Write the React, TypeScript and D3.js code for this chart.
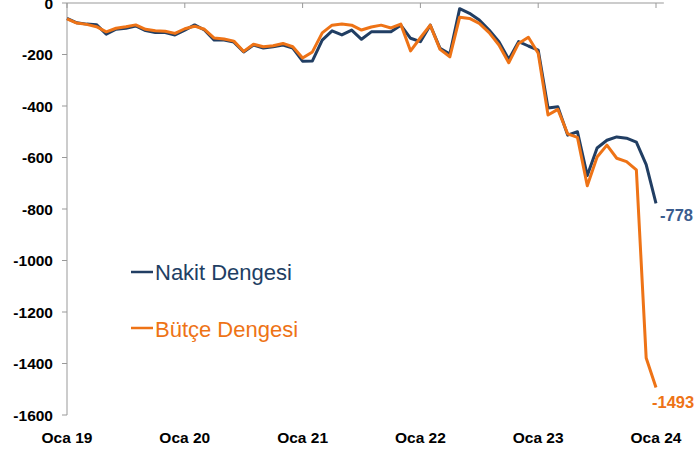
import React from "react";
import * as d3 from "d3";

const xLabels = ["Oca 19", "Oca 20", "Oca 21", "Oca 22", "Oca 23", "Oca 24"];
const yTicks = [0, -200, -400, -600, -800, -1000, -1200, -1400, -1600];

const nakit = [
  -60, -77, -82, -84, -121, -102, -98, -89, -107, -115, -115, -124,
  -105, -85, -105, -144, -144, -152, -190, -163, -175, -170, -163, -175,
  -226, -225, -144, -108, -124, -105, -141, -112, -112, -112, -86, -137,
  -150, -86, -176, -198, -22, -40, -66, -105, -150, -219, -150, -167,
  -183, -408, -403, -513, -500, -670, -563, -533, -520, -525, -540, -628,
  -778,
];

const butce = [
  -62, -78, -83, -92, -112, -98, -92, -85, -102, -108, -110, -118,
  -100, -90, -102, -136, -140, -148, -188, -160, -170, -166, -157, -170,
  -214, -190, -116, -86, -82, -86, -105, -93, -86, -97, -82, -186,
  -135, -86, -180, -209, -55, -60, -79, -115, -163, -232, -157, -133,
  -195, -435, -413, -508, -522, -710, -598, -552, -603, -616, -648, -1379,
  -1493,
];

const BLUE = "#213E63";
const ORANGE = "#EE7316";
const BLUE_LABEL = "#3A5C8E";
const AXIS = "#999999";
const FONT = "'Liberation Sans', Arial, sans-serif";

export default function App() {
  const W = 697;
  const H = 450;
  const x = d3.scaleLinear().domain([0, 60]).range([67, 656]);
  const y = d3.scaleLinear().domain([-1600, 0]).range([415, 3]);
  const line = d3
    .line<number>()
    .x((_, i) => x(i))
    .y((d) => y(d));

  const lastI = nakit.length - 1;

  return (
    <svg
      width={W}
      height={H}
      style={{ position: "absolute", left: 0, top: 0, background: "#fff" }}
    >
      {/* y axis */}
      <line x1={67} x2={67} y1={y(0)} y2={y(-1600)} stroke={AXIS} strokeWidth={1} />
      {yTicks.map((t) => (
        <g key={t}>
          <line x1={62} x2={67} y1={y(t)} y2={y(t)} stroke={AXIS} strokeWidth={1} />
          <text
            x={53}
            y={y(t)}
            dy="0.36em"
            textAnchor="end"
            fontFamily={FONT}
            fontWeight="bold"
            fontSize={15.5}
            fill="#000"
          >
            {t}
          </text>
        </g>
      ))}
      {/* x axis at top (value 0) */}
      <line x1={67} x2={x(60.8)} y1={y(0)} y2={y(0)} stroke={AXIS} strokeWidth={1} />
      {xLabels.map((l, k) => (
        <g key={l}>
          <line x1={x(k * 12)} x2={x(k * 12)} y1={y(0)} y2={y(0) + 5} stroke={AXIS} strokeWidth={1} />
          <text
            x={x(k * 12)}
            y={443}
            textAnchor="middle"
            fontFamily={FONT}
            fontWeight="bold"
            fontSize={15.5}
            fill="#000"
          >
            {l}
          </text>
        </g>
      ))}
      {/* series */}
      <path d={line(nakit) ?? ""} fill="none" stroke={BLUE} strokeWidth={3} strokeLinejoin="round" />
      <path d={line(butce) ?? ""} fill="none" stroke={ORANGE} strokeWidth={3} strokeLinejoin="round" />
      {/* end labels */}
      <text
        x={x(lastI) + 4}
        y={y(nakit[lastI]) + 12}
        dy="0.36em"
        fontFamily={FONT}
        fontWeight="bold"
        fontSize={16.5}
        fill={BLUE_LABEL}
      >
        {nakit[lastI]}
      </text>
      <text
        x={x(lastI) - 4}
        y={y(butce[lastI]) + 15}
        dy="0.36em"
        fontFamily={FONT}
        fontWeight="bold"
        fontSize={16.5}
        fill={ORANGE}
      >
        {butce[lastI]}
      </text>
      {/* legend */}
      <line x1={131} x2={153} y1={272} y2={272} stroke={BLUE} strokeWidth={2.5} />
      <text x={155} y={280} fontFamily={FONT} fontSize={22} fill={BLUE}>
        Nakit Dengesi
      </text>
      <line x1={131} x2={153} y1={328} y2={328} stroke={ORANGE} strokeWidth={2.5} />
      <text x={155} y={337} fontFamily={FONT} fontSize={22} fill={ORANGE}>
        Bütçe Dengesi
      </text>
    </svg>
  );
}
